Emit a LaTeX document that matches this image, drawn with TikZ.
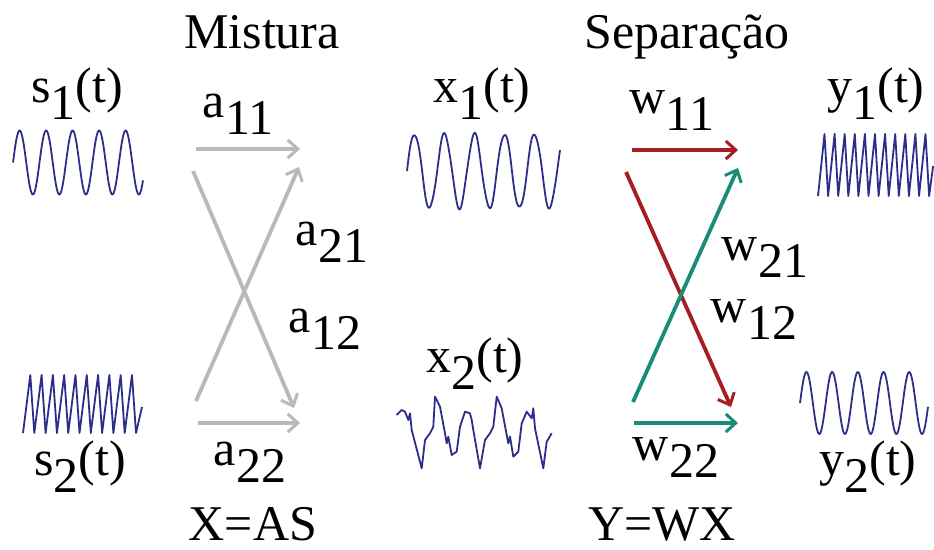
\documentclass[tikz,border=0pt]{standalone}
\usepackage{fontspec}
\IfFontExistsTF{LiberationSerif-Regular.ttf}
  {\setmainfont{LiberationSerif-Regular.ttf}\newfontfamily\tnr{LiberationSerif-Regular.ttf}}
  {\setmainfont{Liberation Serif}\newfontfamily\tnr{Liberation Serif}}
\usetikzlibrary{arrows.meta}
\definecolor{wave}{RGB}{45,45,140}
\definecolor{mixgray}{RGB}{185,185,185}
\definecolor{sepred}{RGB}{165,30,35}
\definecolor{septeal}{RGB}{25,140,120}
\newcommand\lowsub[3]{#1\raisebox{-17pt}{#2}#3}
\tikzset{
  lbl/.style={font=\tnr\fontsize{50}{60}\selectfont, inner sep=0pt, anchor=base, text=black},
  wavestyle/.style={draw=wave, line width=1.8pt, line join=round},
  conn/.style={line width=3.8pt, -{Straight Barb[length=10pt,width=18pt,line width=3pt]}},
}
\begin{document}
\begin{tikzpicture}[x=1pt,y=-1pt]
\useasboundingbox (0,0) rectangle (934,549);
\fill[white] (0,0) rectangle (934,549);
% titles
\node[lbl] (tmix) at (262,48) {Mistura};
\node[lbl] (tsep) at (687,48) {Separação};
% signal labels
\node[lbl] (ls1) at (77,102) {\lowsub{s}{1}{(t)}};
\node[lbl] (ls2) at (80,475) {\lowsub{s}{2}{(t)}};
\node[lbl] (lx1) at (482,102) {\lowsub{x}{1}{(t)}};
\node[lbl] (lx2) at (475,372) {\lowsub{x}{2}{(t)}};
\node[lbl] (ly1) at (876,102) {\lowsub{y}{1}{(t)}};
\node[lbl] (ly2) at (868,475) {\lowsub{y}{2}{(t)}};
% coefficient labels
\node[lbl] (la11) at (238,117) {\lowsub{a}{11}{}};
\node[lbl] (la21) at (332,245) {\lowsub{a}{21}{}};
\node[lbl] (la12) at (325,332) {\lowsub{a}{12}{}};
\node[lbl] (la22) at (250,465) {\lowsub{a}{22}{}};
\node[lbl] (lw11) at (672,113) {\lowsub{w}{11}{}};
\node[lbl] (lw21) at (765,260) {\lowsub{w}{21}{}};
\node[lbl] (lw12) at (754,322) {\lowsub{w}{12}{}};
\node[lbl] (lw22) at (676,460) {\lowsub{w}{22}{}};
% equations
\node[lbl] (eqx) at (253,540) {X=AS};
\node[lbl] (eqy) at (662,540) {Y=WX};
% arrow endpoints
\coordinate (m1s) at (196,149);  \coordinate (m1e) at (300,149);
\coordinate (m2s) at (193,171);  \coordinate (m2e) at (294,408);
\coordinate (m3s) at (196,401);  \coordinate (m3e) at (299,167);
\coordinate (m4s) at (198,423);  \coordinate (m4e) at (300,423);
\coordinate (w1s) at (632,150);  \coordinate (w1e) at (738,150);
\coordinate (w2s) at (626,172);  \coordinate (w2e) at (731,407);
\coordinate (w3s) at (633,402);  \coordinate (w3e) at (738,168);
\coordinate (w4s) at (634,423);  \coordinate (w4e) at (738,423);
\draw[conn, mixgray] (m1s) -- (m1e);
\draw[conn, mixgray] (m2s) -- (m2e);
\draw[conn, mixgray] (m3s) -- (m3e);
\draw[conn, mixgray] (m4s) -- (m4e);
\draw[conn, sepred] (w1s) -- (w1e);
\draw[conn, sepred] (w2s) -- (w2e);
\draw[conn, septeal] (w3s) -- (w3e);
\draw[conn, septeal] (w4s) -- (w4e);
% waveforms
% s1: sine
\draw[wavestyle] plot[domain=13:143, samples=200, smooth] (\x, {162.5 - 32*sin(((\x-13)/26.5)*360)});
% y2: sine
\draw[wavestyle] plot[domain=800:928, samples=200, smooth] (\x, {403 - 31*sin(((\x-800)/25.7)*360)});
% s2: fast sawtooth
\draw[wavestyle] (23,433) foreach \i in {1,...,10} { -- ++(7.3,-58) -- ++(4,58) } -- ++(6,-26);
% y1: fast sawtooth
\draw[wavestyle] (818,196) foreach \i in {1,...,11} { -- ++(6.5,-62) -- ++(3.6,62) } -- ++(4,-30);
% x1: noisy sine
\draw[wavestyle] plot[domain=407:560, samples=300] (\x, {171 - 37*sin(((\x-407)/30)*360) - 1.5*sin(((\x-407)/11)*360)});
% x2: mixture
\draw[wavestyle] (396.7,415) -- (401.7,410) -- (405,411.7) -- (408.3,420) -- (410,413.3) -- (411.7,430)
  -- (421.7,468.3) -- (425,440) -- (430,433.3) -- (433.3,426.7) -- (435,396.7) -- (440,406.7)
  -- (445,433.3) -- (446.7,443.3) -- (448.3,436.7) -- (451.7,455) -- (456.7,451.7) -- (460,426.7)
  -- (465,411.7) -- (470,413.3) -- (471.7,420) -- (473.3,430) -- (480,468.3) -- (485,440)
  -- (490,433.3) -- (493.3,426.7) -- (496.7,396.7) -- (501.7,408.3) -- (506.7,435) -- (508.3,443.3)
  -- (510,436.7) -- (513.3,456.7) -- (518.3,451.7) -- (521.7,423.3) -- (526.7,411.7) -- (531.7,418.3)
  -- (533.3,408.3) -- (535,428.3) -- (543.3,468.3) -- (546.7,441.7) -- (551.7,433.3);
\end{tikzpicture}
\end{document}
